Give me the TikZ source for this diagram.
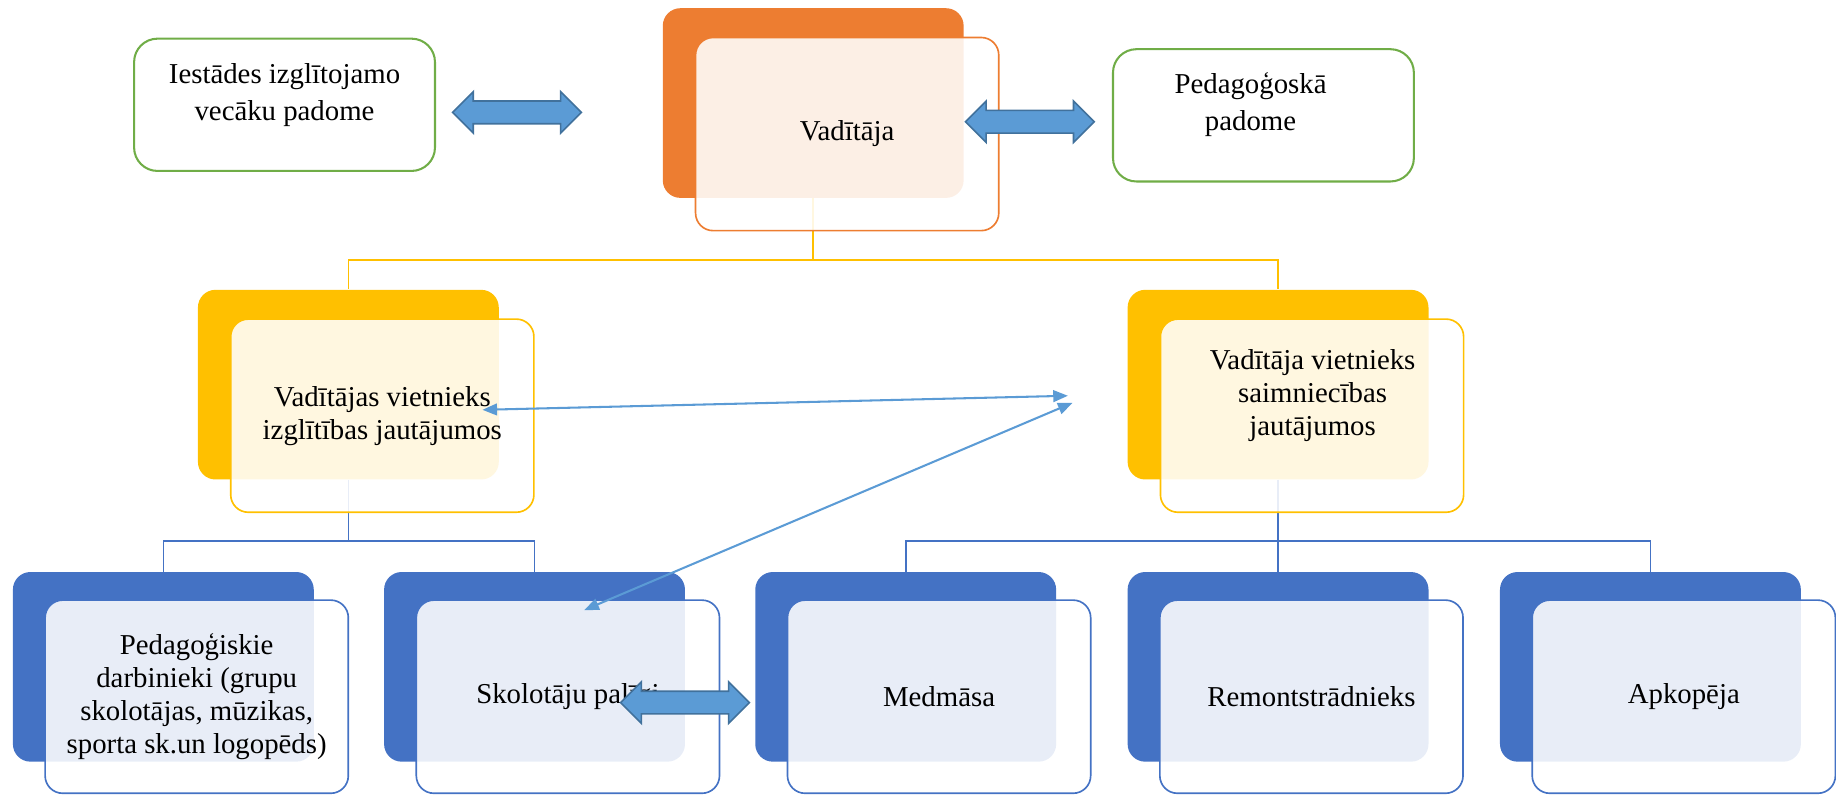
\documentclass[tikz,border=0pt]{standalone}
\usepackage{fontspec}
\setmainfont{Liberation Serif}
\usetikzlibrary{arrows.meta,shapes.arrows}

\definecolor{orgOrange}{HTML}{ED7D31}
\definecolor{orgYellow}{HTML}{FFC000}
\definecolor{orgBlue}{HTML}{4472C4}
\definecolor{orgGreen}{HTML}{70AD47}
\definecolor{arrBlue}{HTML}{5B9BD5}
\definecolor{arrEdge}{HTML}{41719C}

\tikzset{
  backbox/.style={rounded corners=0.3cm, minimum width=5.14cm, minimum height=3.24cm, inner sep=0pt},
  frontbox/.style={draw, rounded corners=0.3cm, fill=white, fill opacity=0.88, text opacity=1,
    line width=0.8pt, minimum width=5.18cm, minimum height=3.3cm, inner sep=0pt, align=center,
    font=\fontsize{14}{16}\selectfont},
  sidebox/.style={draw=orgGreen, rounded corners=0.4cm, line width=1pt, minimum width=5.14cm,
    minimum height=2.26cm, inner sep=0pt},
  boxtext/.style={align=center, inner sep=0pt, font=\fontsize{14}{16}\selectfont},
  sidetext/.style={align=center, inner sep=0pt, font=\fontsize{14}{18}\selectfont},
  conn/.style={line width=0.8pt},
  linkarrow/.style={draw=arrBlue, line width=1pt,
    {Triangle[length=0.25cm, width=0.2cm]}-{Triangle[length=0.25cm, width=0.2cm]}},
  blockarrow/.style={double arrow, draw=arrEdge, fill=arrBlue, line width=0.8pt, inner xsep=0pt,
    inner ysep=0.18cm, minimum height=2.2cm, double arrow head extend=0.16cm}
}

\begin{document}
\begin{tikzpicture}[x=0.02cm, y=-0.02cm]
  \useasboundingbox (0,0) rectangle (1568,679);

  %%%%% BACK BOXES %%%%%
  \node[backbox, fill=orgOrange] (vadB) at (694.5, 88) {};
  \node[backbox, fill=orgYellow] (izgB) at (297.5, 328.5) {};
  \node[backbox, fill=orgYellow] (saiB) at (1091.5, 328.5) {};
  \node[backbox, fill=orgBlue] (pedB) at (139.5, 569.5) {};
  \node[backbox, fill=orgBlue] (skoB) at (456.5, 569.5) {};
  \node[backbox, fill=orgBlue] (medB) at (773.5, 569.5) {};
  \node[backbox, fill=orgBlue] (remB) at (1091.5, 569.5) {};
  \node[backbox, fill=orgBlue] (apkB) at (1409.5, 569.5) {};

  %%%%% LINES %%%%%
  \coordinate (busTop) at (0, 222);
  \coordinate (busLow) at (0, 462);
  \draw[conn, draw=orgYellow] (vadB.south) -- (vadB.south |- busTop) -| (izgB.north);
  \draw[conn, draw=orgYellow] (vadB.south |- busTop) -| (saiB.north);
  \draw[conn, draw=orgBlue] (izgB.south) -- (izgB.south |- busLow) -| (pedB.north);
  \draw[conn, draw=orgBlue] (izgB.south |- busLow) -| (skoB.north);
  \draw[conn, draw=orgBlue] (saiB.south) -- (saiB.south |- busLow) -| (medB.north);
  \draw[conn, draw=orgBlue] (saiB.south |- busLow) -| (apkB.north);
  \draw[conn, draw=orgBlue] (saiB.south |- busLow) -- (remB.north);

  %%%%% FRONT BOXES %%%%%
  \node[frontbox, draw=orgOrange] (vad) at ([shift={(29,26.5)}]vadB.center) {Vadītāja};
  \node[frontbox, draw=orgYellow] (izg) at ([shift={(29,26.5)}]izgB.center)
    {Vadītājas vietnieks\\izglītības jautājumos};
  \node[frontbox, draw=orgYellow] (sai) at ([shift={(29,26.5)}]saiB.center) {};
  \node[boxtext] (saiT) at (1121, 338) {Vadītāja vietnieks\\saimniecības\\jautājumos};
  \node[frontbox, draw=orgBlue] (ped) at ([shift={(28.5,25.5)}]pedB.center)
    {Pedagoģiskie\\darbinieki (grupu\\skolotājas, mūzikas,\\sporta sk.un logopēds)};
  \node[frontbox, draw=orgBlue] (sko) at ([shift={(28.5,25.5)}]skoB.center) {Skolotāju palīgi};
  \node[frontbox, draw=orgBlue] (med) at ([shift={(28.5,25.5)}]medB.center) {Medmāsa};
  \node[frontbox, draw=orgBlue] (rem) at ([shift={(28.5,25.5)}]remB.center) {Remontstrādnieks};
  \node[frontbox, draw=orgBlue] (apk) at ([shift={(28.5,25.5)}]apkB.center) {Apkopēja};

  %%%%% SIDE BOXES %%%%%
  \node[sidebox] (rad) at (243, 89.5) {};
  \node[sidetext] (radT) at (243, 81) {Iestādes izglītojamo\\vecāku padome};
  \node[sidebox] (pad) at (1079, 98.5) {};
  \node[sidetext] (padT) at (1068, 89) {Pedagoģoskā\\padome};

  %%%%% ARROWS %%%%%
  \coordinate (linkIzg) at (412, 350);
  \coordinate (linkSaiA) at (912, 338);
  \coordinate (linkSaiB) at (916, 344);
  \coordinate (linkSko) at (499, 521);
  \draw[linkarrow] (linkIzg) -- (linkSaiA);
  \draw[linkarrow] (linkSko) -- (linkSaiB);

  \node[blockarrow] (arrRad) at (441.5, 96) {};
  \node[blockarrow] (arrPad) at (879.5, 104) {};
  \node[blockarrow] (arrSko) at (585, 600) {};
\end{tikzpicture}
\end{document}
